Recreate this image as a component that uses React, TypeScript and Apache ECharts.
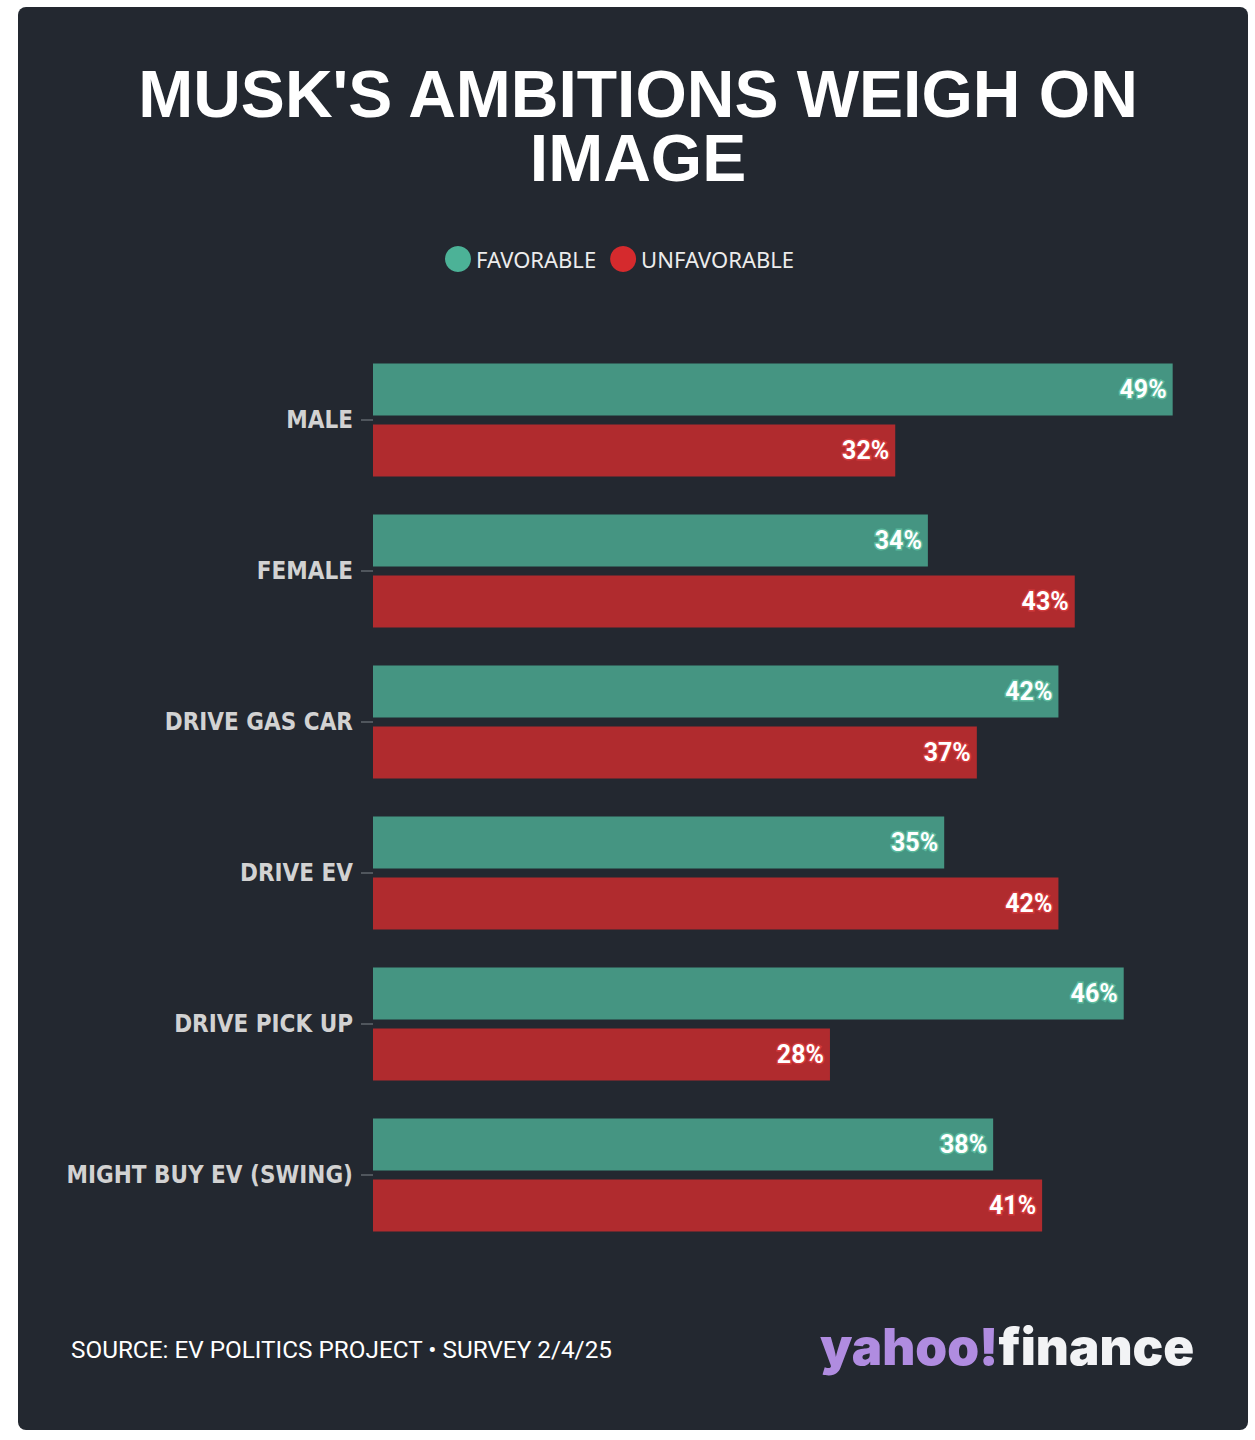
import React, { useEffect, useRef } from "react";
import * as echarts from "echarts";

const categories = ["MALE", "FEMALE", "DRIVE GAS CAR", "DRIVE EV", "DRIVE PICK UP", "MIGHT BUY EV (SWING)"];
const favorable = [49, 34, 42, 35, 46, 38];
const unfavorable = [32, 43, 37, 42, 28, 41];
const seriesNames = ["FAVORABLE", "UNFAVORABLE"];
const titleText = "MUSK'S AMBITIONS WEIGH ON\nIMAGE";
const sourceText = "SOURCE: EV POLITICS PROJECT • SURVEY 2/4/25";

const GREEN = "#459582";
const RED = "#b02b2e";

export default function App() {
  const ref = useRef<HTMLDivElement>(null);
  useEffect(() => {
    const chart = echarts.init(ref.current!, null, { renderer: "svg" });
    chart.setOption({
      animation: false,
      backgroundColor: "#ffffff",
      title: {
        text: titleText,
        left: 633,
        textAlign: "center",
        top: 57,
        textStyle: {
          color: "#ffffff",
          fontFamily: "'Liberation Sans', Arial, sans-serif",
          fontWeight: "bold",
          fontSize: 66,
          lineHeight: 64,
        },
      },
      legend: {
        left: 440,
        top: 241,
        icon: "circle",
        itemWidth: 26,
        itemHeight: 26,
        itemGap: 14,
        textStyle: { color: "#ececec", fontFamily: "Noto Sans", fontSize: 22 },
        data: [
          { name: seriesNames[0], itemStyle: { color: "#4cb297" } },
          { name: seriesNames[1], itemStyle: { color: "#d52a2d" } },
        ],
      },
      grid: { left: 373, width: 816, top: 344.5, height: 906 },
      xAxis: { type: "value", min: 0, max: 50, show: false },
      yAxis: {
        type: "category",
        data: categories,
        inverse: true,
        axisLine: { show: false },
        axisTick: { show: true, alignWithLabel: true, length: 12, lineStyle: { color: "#50565d", width: 2 } },
        axisLabel: {
          margin: 20,
          color: "#d2d2d2",
          fontFamily: "'DejaVu Sans Condensed', 'Liberation Sans Narrow', 'Roboto Condensed', Roboto",
          fontWeight: "bold",
          fontSize: 24,
        },
      },
      graphic: [
        { type: "rect", z: -10, shape: { x: 18, y: 7, width: 1230, height: 1423, r: 8 }, style: { fill: "#232830" } },
        {
          type: "text",
          x: 71,
          y: 1349,
          style: { text: sourceText, fill: "#ffffff", font: "24.3px Roboto", verticalAlign: "middle" },
        },
        {
          type: "text",
          x: 820,
          y: 1346,
          style: {
            text: "{a|yahoo!}{b|finance}",
            verticalAlign: "middle",
            rich: {
              a: { fill: "#b08ce0", fontFamily: "Inter", fontWeight: 900, fontSize: 51 },
              b: { fill: "#f2f3f5", fontFamily: "Inter", fontWeight: 900, fontSize: 51 },
            },
          },
        },
      ],
      series: [
        {
          name: seriesNames[0],
          type: "bar",
          data: favorable,
          barWidth: 52,
          barGap: "17%",
          itemStyle: { color: GREEN },
          label: {
            show: true,
            position: "insideRight",
            distance: 6,
            formatter: "{c}%",
            color: "#ffffff",
            fontFamily: "Roboto",
            fontWeight: "bold",
            fontSize: 25,
            textBorderColor: "#5cba9e",
            textBorderWidth: 3,
          },
        },
        {
          name: seriesNames[1],
          type: "bar",
          data: unfavorable,
          barWidth: 52,
          barGap: "17%",
          itemStyle: { color: RED },
          label: {
            show: true,
            position: "insideRight",
            distance: 6,
            formatter: "{c}%",
            color: "#ffffff",
            fontFamily: "Roboto",
            fontWeight: "bold",
            fontSize: 25,
            textBorderColor: "#d13a3c",
            textBorderWidth: 3,
          },
        },
      ],
    });
    return () => chart.dispose();
  }, []);
  return (
    <div
      ref={ref}
      style={{ position: "absolute", left: 0, top: 0, width: 1255, height: 1440 }}
    />
  );
}
